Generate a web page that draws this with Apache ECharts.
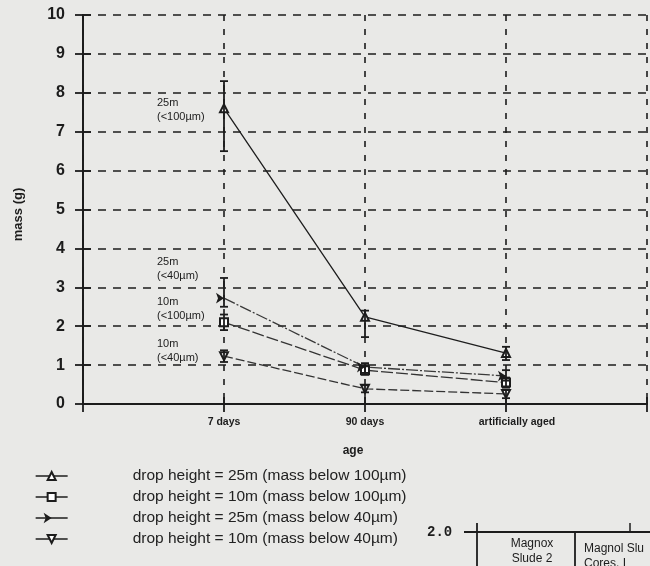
<!DOCTYPE html>
<html>
<head>
<meta charset="utf-8">
<script src="https://cdn.jsdelivr.net/npm/echarts@6/dist/echarts.min.js"></script>
<style>
html,body{margin:0;padding:0;background:#e9e9e7;}
#c{width:650px;height:566px;}
</style>
</head>
<body>
<div id="c"></div>
<script>
// ---- data ----
var categories = ['7 days', '90 days', 'artificially aged'];
var xTickLabels = ['', '7 days', '90 days', 'artificially aged', ''];
var yTicks = [0,1,2,3,4,5,6,7,8,9,10];

var seriesNames = [
  'drop height = 25m (mass below 100µm)',
  'drop height = 10m (mass below 100µm)',
  'drop height = 25m (mass below 40µm)',
  'drop height = 10m (mass below 40µm)'
];
var annotations = [
  ['25m', '(<100µm)'],
  ['10m', '(<100µm)'],
  ['25m', '(<40µm)'],
  ['10m', '(<40µm)']
];

var mass25m100 = [7.6, 2.24, 1.31];
var mass10m100 = [2.1, 0.87, 0.55];
var mass25m40  = [2.72, 0.95, 0.72];
var mass10m40  = [1.23, 0.39, 0.26];

var low25m100  = [6.5, 1.72, 1.13];
var high25m100 = [8.3, 2.4, 1.47];
var low10m100  = [1.9, 0.75, 0.42];
var high10m100 = [2.3, 1.0, 0.68];
var low25m40   = [2.5, 0.8, 0.6];
var high25m40  = [3.24, 1.05, 0.87];
var low10m40   = [1.08, 0.3, 0.15];
var high10m40  = [1.38, 0.48, 0.36];

// ---- build ----
var allMass = [mass25m100, mass10m100, mass25m40, mass10m40];
var allLow = [low25m100, low10m100, low25m40, low10m40];
var allHigh = [high25m100, high10m100, high25m40, high10m40];

var FONT = 'Liberation Sans, Arial, Helvetica, sans-serif';
var INK = '#1c1c1c';

function pts(arr){ return arr.map(function(v,i){ return [i+1, v]; }); }

var symbols = ['emptyTriangle', 'emptyRect', 'arrow', 'emptyTriangle'];
var symRot = [0, 0, -90, 180];
var lineTypes = ['solid', [12,3], [12,2,2,2], [9,3]];
var lineColors = ['#1e1e1e', '#333', '#3a3a3a', '#333'];

var series = [];
for (var s = 0; s < 4; s++) {
  series.push({
    type: 'line',
    name: seriesNames[s],
    data: pts(allMass[s]),
    xAxisIndex: 0, yAxisIndex: 0,
    symbol: symbols[s],
    symbolRotate: symRot[s],
    symbolSize: 8,
    lineStyle: {color: lineColors[s], width: 1.3, type: lineTypes[s]},
    itemStyle: {color: INK, borderWidth: 1.4},
    z: 5
  });
}

var errData = [];
for (var s2 = 0; s2 < 4; s2++) {
  for (var i = 0; i < categories.length; i++) {
    errData.push([i+1, allLow[s2][i], allHigh[s2][i]]);
  }
}
series.push({
  type: 'custom',
  name: 'err',
  xAxisIndex: 0, yAxisIndex: 0,
  data: errData,
  z: 6,
  renderItem: function(params, api){
    var lo = api.coord([api.value(0), api.value(1)]);
    var hi = api.coord([api.value(0), api.value(2)]);
    var w = 4;
    var st = {stroke: INK, lineWidth: 1.8};
    return {type:'group', children:[
      {type:'line', shape:{x1:lo[0],y1:lo[1],x2:hi[0],y2:hi[1]}, style:st},
      {type:'line', shape:{x1:lo[0]-w,y1:lo[1],x2:lo[0]+w,y2:lo[1]}, style:st},
      {type:'line', shape:{x1:hi[0]-w,y1:hi[1],x2:hi[0]+w,y2:hi[1]}, style:st}
    ]};
  }
});

var chart = echarts.init(document.getElementById('c'), null, {renderer:'canvas'});
var option = {
  backgroundColor: '#e9e9e7',
  animation: false,
  grid: {left: 83, top: 15, right: 3, bottom: 162, containLabel: false},
  legend: {
    data: seriesNames,
    orient: 'vertical',
    left: 30, top: 463,
    itemWidth: 32, itemHeight: 10, itemGap: 5,
    lineStyle: {type: 'solid', width: 1.3, color: INK},
    textStyle: {fontFamily: FONT, fontSize: 15.5, color: '#222', padding: [0,0,0,60]},
    inactiveColor: '#999'
  },
  xAxis: [
    {
      type: 'value', min: 0, max: 4, interval: 1, position: 'bottom',
      name: 'age', nameLocation: 'middle', nameGap: 41,
      nameTextStyle: {fontFamily: FONT, fontWeight: 'bold', fontSize: 12, color: INK, padding: [0,24,0,0]},
      axisLine: {lineStyle: {color: INK, width: 1.8}},
      axisTick: {length: 8, lineStyle: {color: INK, width: 1.8}},
      axisLabel: {
        margin: 13, fontFamily: FONT, fontWeight: 'bold', fontSize: 10.5, color: INK,
        formatter: function(v){
          var t = xTickLabels[v] || '';
          if (v === 3) return '{sh|' + t + '}';
          return t;
        },
        rich: {sh: {fontFamily: FONT, fontWeight: 'bold', fontSize: 10.5, color: INK, padding: [0,0,0,22]}}
      },
      splitLine: {show: true, lineStyle: {color: INK, width: 1.6, type: [6,8]}}
    },
    {
      type: 'value', min: 0, max: 4, interval: 1, position: 'bottom',
      axisLine: {show: false},
      axisTick: {inside: true, length: 7, lineStyle: {color: INK, width: 1.8}},
      axisLabel: {show: false}, splitLine: {show: false}
    },
    {
      type: 'value', min: 0, max: 4, interval: 1, position: 'top',
      axisLine: {lineStyle: {color: INK, width: 1.8}},
      axisTick: {length: 6, lineStyle: {color: INK, width: 1.5}},
      axisLabel: {show: false}, splitLine: {show: false}
    }
  ],
  yAxis: [
    {
      type: 'value', min: 0, max: 10, interval: 1, position: 'left',
      name: 'mass (g)', nameLocation: 'middle', nameGap: 58, nameRotate: 90,
      nameTextStyle: {fontFamily: FONT, fontWeight: 'bold', fontSize: 13, color: INK, padding: [0,10,0,0]},
      axisLine: {lineStyle: {color: INK, width: 1.8}},
      axisTick: {length: 8, lineStyle: {color: INK, width: 1.8}},
      axisLabel: {margin: 18, fontFamily: FONT, fontWeight: 'bold', fontSize: 16, color: INK,
        formatter: function(v){ return String(yTicks[v]); }},
      splitLine: {show: true, lineStyle: {color: INK, width: 1.6, type: [8,7]}}
    },
    {
      type: 'value', min: 0, max: 10, interval: 1, position: 'left',
      axisLine: {show: false},
      axisTick: {inside: true, length: 8, lineStyle: {color: INK, width: 1.8}},
      axisLabel: {show: false}, splitLine: {show: false}
    },
    {
      type: 'value', min: 0, max: 10, interval: 1, position: 'right',
      axisLine: {lineStyle: {color: INK, width: 1.8}},
      axisTick: {show: false}, axisLabel: {show: false}, splitLine: {show: false}
    }
  ],
  series: series
};
chart.setOption(option);

// annotations placed next to the first (7 days) point of each series
var annOffsetY = [2, -13, -29, -5];
var graphics = [];
for (var a = 0; a < 4; a++) {
  var p = chart.convertToPixel({xAxisIndex: 0, yAxisIndex: 0}, [1, allMass[a][0]]);
  graphics.push({
    type: 'text', left: p[0] - 67, top: p[1] + annOffsetY[a] - 14,
    style: {text: annotations[a].join('\n'), fontFamily: FONT, fontSize: 11, lineHeight: 14, fill: INK}
  });
}
// fragment of the neighbouring figure (bottom right)
graphics.push(
  {type:'text', style:{x: 427, y: 525, text:'2.0', fontFamily:'Liberation Mono, DejaVu Sans Mono, monospace', fontWeight:'bold', fontSize:14, fill:INK}},
  {type:'line', shape:{x1:464,y1:532,x2:650,y2:532}, style:{stroke:INK, lineWidth:1.8}},
  {type:'line', shape:{x1:477,y1:523,x2:477,y2:566}, style:{stroke:INK, lineWidth:1.8}},
  {type:'line', shape:{x1:630,y1:523,x2:630,y2:532}, style:{stroke:INK, lineWidth:1.5}},
  {type:'line', shape:{x1:575,y1:532,x2:575,y2:566}, style:{stroke:INK, lineWidth:1.8}},
  {type:'text', style:{x: 532, y: 536, text:'Magnox\nSlude 2', fontFamily:FONT, fontSize:12, lineHeight:15, align:'center', fill:INK}},
  {type:'text', style:{x: 584, y: 541, text:'Magnol Slu\nCores. I', fontFamily:FONT, fontSize:12, lineHeight:15, fill:INK}}
);
chart.setOption({graphic: graphics});
</script>
</body>
</html>
